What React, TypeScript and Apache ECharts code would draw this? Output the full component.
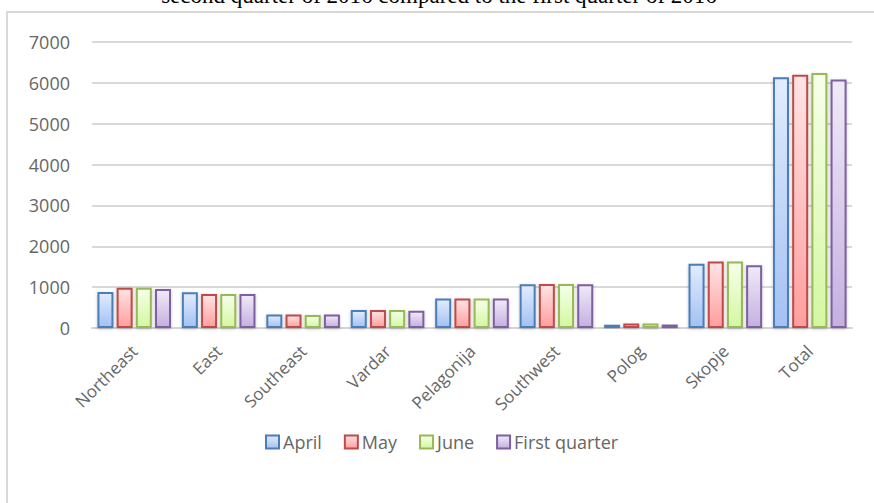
import React, { useEffect, useRef } from "react";
import * as echarts from "echarts";

const categories = ["Northeast", "East", "Southeast", "Vardar", "Pelagonija", "Southwest", "Polog", "Skopje", "Total"];
const april = [880, 875, 330, 440, 720, 1070, 80, 1570, 6140];
const may = [985, 830, 330, 440, 720, 1075, 110, 1625, 6200];
const june = [985, 830, 320, 440, 720, 1075, 110, 1625, 6240];
const firstQuarter = [955, 830, 330, 420, 720, 1070, 85, 1535, 6085];
const yTicks = [0, 1000, 2000, 3000, 4000, 5000, 6000, 7000];
const titleText = "second quarter of 2016 compared to the first quarter of 2016";

const seriesDefs = [
  { name: "April", data: april, border: "#4a7ebb", top: "#e2ecfd", bottom: "#a3c1f3" },
  { name: "May", data: may, border: "#be4b48", top: "#ffe4e4", bottom: "#ff9e9e" },
  { name: "June", data: june, border: "#98b954", top: "#f6ffea", bottom: "#d4f7a2" },
  { name: "First quarter", data: firstQuarter, border: "#7d60a0", top: "#f0eaf8", bottom: "#c5b0e0" },
];

const labelFont = "'Open Sans', 'Noto Sans', sans-serif";

export default function App() {
  const ref = useRef<HTMLDivElement>(null);
  useEffect(() => {
    if (!ref.current) return;
    const chart = echarts.init(ref.current, null, { renderer: "svg" });
    chart.setOption({
      animation: false,
      backgroundColor: "#ffffff",
      graphic: [
        {
          type: "rect",
          shape: { x: 7, y: 12, width: 1000, height: 600 },
          style: { fill: "none", stroke: "#d9d9d9", lineWidth: 2 },
          z: 0,
        },
        {
          type: "text",
          x: 439,
          y: 7,
          style: {
            text: titleText,
            fontFamily: "'Liberation Serif', 'Times New Roman', serif",
            fontSize: 23,
            fill: "#000000",
            textAlign: "center",
            textVerticalAlign: "bottom",
          },
          z: 10,
        },
      ],
      grid: { left: 92, right: 22, top: 42, bottom: 175, containLabel: false },
      legend: {
        left: 260,
        top: 428,
        itemWidth: 13,
        itemHeight: 13,
        itemGap: 22,
        icon: "rect",
        textStyle: { fontFamily: labelFont, fontSize: 18, color: "#666666", padding: [0, 0, 0, -1] },
        data: seriesDefs.map((s) => s.name),
      },
      xAxis: {
        type: "category",
        data: categories,
        axisLine: { lineStyle: { color: "#d4d4d4", width: 2 } },
        axisTick: { show: false },
        axisLabel: {
          rotate: 45,
          margin: 20,
          fontFamily: labelFont,
          fontSize: 17,
          color: "#666666",
          interval: 0,
        },
      },
      yAxis: {
        type: "value",
        min: 0,
        max: 7000,
        interval: 1000,
        axisLine: { show: false },
        axisTick: { show: false },
        axisLabel: {
          margin: 22,
          fontFamily: labelFont,
          fontSize: 18,
          color: "#666666",
          formatter: (v: number) => (yTicks.includes(v) ? String(v) : ""),
        },
        splitLine: { lineStyle: { color: "#d9d9d9", width: 2 } },
      },
      series: seriesDefs.map((s) => ({
        name: s.name,
        type: "bar",
        data: s.data,
        barWidth: 16,
        barGap: "20%",
        itemStyle: {
          color: new echarts.graphic.LinearGradient(0, 0, 0, 1, [
            { offset: 0, color: s.top },
            { offset: 1, color: s.bottom },
          ]),
          borderColor: s.border,
          borderWidth: 2,
          shadowColor: "rgba(0,0,0,0.25)",
          shadowBlur: 3,
          shadowOffsetY: 1,
        },
      })),
    });
    return () => chart.dispose();
  }, []);
  return <div ref={ref} style={{ width: 874, height: 503, position: "absolute", left: 0, top: 0 }} />;
}
